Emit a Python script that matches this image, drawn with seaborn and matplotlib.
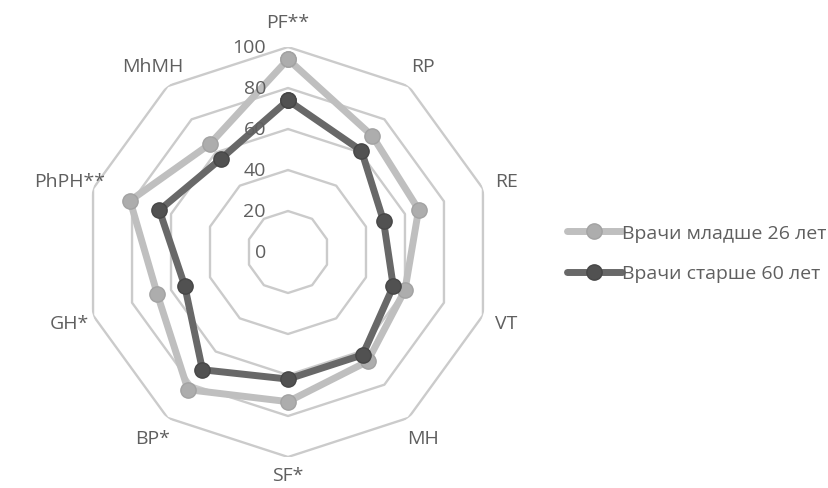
import numpy as np
import pandas as pd
import seaborn as sns
import matplotlib.pyplot as plt

# данные
categories = ['PF**', 'RP', 'RE', 'VT', 'MH', 'SF*', 'BP*', 'GH*', 'PhPH**', 'MhMH']
young = [94, 70, 67, 60, 66, 73, 83, 67, 81, 65]
old = [74, 61, 49, 54, 62, 62, 71, 53, 66, 56]
series_names = ['Врачи младше 26 лет', 'Врачи старше 60 лет']
r_ticks = [0, 20, 40, 60, 80, 100]

sns.set_theme(style='white')
plt.rcParams['font.family'] = ['Open Sans', 'DejaVu Sans']

n = len(categories)
angles = np.linspace(0, 2 * np.pi, n, endpoint=False)
closed = np.append(angles, 2 * np.pi)

fig = plt.figure(figsize=(8.29, 4.89), dpi=100)
ax = fig.add_axes([0.1001, 0.0634, 0.4946, 0.8384], projection='polar')
ax.set_theta_zero_location('N')
ax.set_theta_direction(-1)

# сетка в виде десятиугольников
for v in r_ticks[1:]:
    ax.plot(closed, [v] * (n + 1), color='#cbcbcb', lw=1.7, zorder=1)

styles = [
    dict(color='#bfbfbf', markerfacecolor='#adadad', markeredgecolor='#a2a2a2'),
    dict(color='#686868', markerfacecolor='#515151', markeredgecolor='#464646'),
]
for name, vals, st in zip(series_names, [young, old], styles):
    df = pd.DataFrame({'angle': closed, 'value': vals + vals[:1]})
    sns.lineplot(data=df, x='angle', y='value', ax=ax, sort=False, label=name,
                 marker='o', markersize=11, linewidth=5, markeredgewidth=1,
                 zorder=3, clip_on=False, **st)

ax.set_ylim(0, 100)
ax.grid(False)
ax.set_xticks([])
ax.set_yticks([])
ax.set_xlabel('')
ax.set_ylabel('')
ax.spines['polar'].set_visible(False)

# подписи осей (нижнюю чуть ближе, чтобы не обрезалась)
for a, lab in zip(angles, categories):
    rr = 109 if lab == 'SF*' else 112
    ax.text(a, rr, lab, ha='center', va='center', fontsize=14, color='#5f5f5f')

# подписи шкалы
for v in r_ticks:
    ax.annotate(str(v), xy=(0, v), xytext=(-22, 0), textcoords='offset pixels',
                ha='right', va='center', fontsize=14, color='#5f5f5f')

handles, labels = ax.get_legend_handles_labels()
ax.get_legend().remove()
fig.legend(handles, labels, loc='center left', bbox_to_anchor=(0.663, 0.48),
           frameon=False, fontsize=14, labelcolor='#5f5f5f', handlelength=2.8,
           handletextpad=0.0, labelspacing=1.15)

fig.savefig('out.png', dpi=100)
